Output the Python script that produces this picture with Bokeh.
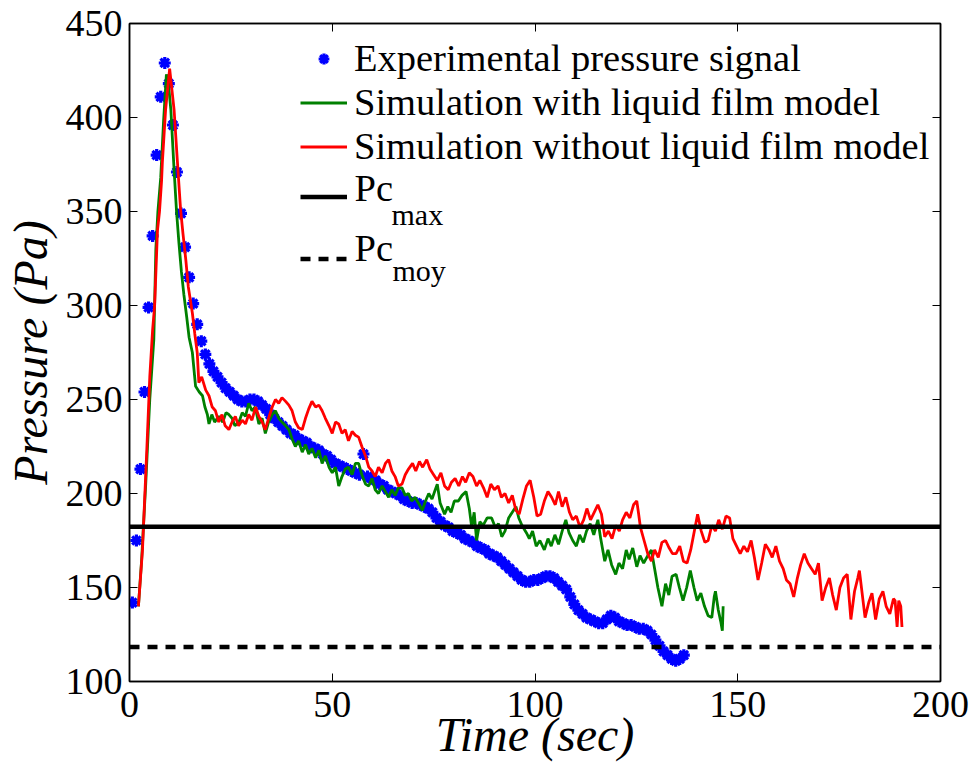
import math
from bokeh.plotting import figure
from bokeh.models import (Range1d, LinearAxis, FixedTicker, Legend, LegendItem, Label,
                          CustomJSTickFormatter)
from bokeh.core.properties import value
from bokeh.embed import file_html
from bokeh.resources import INLINE

# ---------------- data ----------------
X_TICKS = [0, 50, 100, 150, 200]
Y_TICKS = [100, 150, 200, 250, 300, 350, 400, 450]
X_LIM = [0, 200]
Y_LIM = [100, 450]

PC_MAX = 182.3
PC_MOY = 118.3

exp_t = [0.7, 1.7, 2.7, 3.7, 4.7, 5.7, 6.7, 7.7, 8.7, 9.7,
         10.7, 11.7, 12.7, 13.7, 14.7, 15.7, 16.7, 17.7, 18.7, 19.7,
         20.7, 21.7, 22.7, 23.7, 24.7, 25.7, 26.7, 27.7, 28.7, 29.7,
         30.7, 31.7, 32.7, 33.7, 34.7, 35.7, 36.7, 37.7, 38.7, 39.7,
         40.7, 41.7, 42.7, 43.7, 44.7, 45.7, 46.7, 47.7, 48.7, 49.7,
         50.7, 51.7, 52.7, 53.7, 54.7, 55.7, 56.7, 57.7, 58.7, 59.7,
         60.7, 61.7, 62.7, 63.7, 64.7, 65.7, 66.7, 67.7, 68.7, 69.7,
         70.7, 71.7, 72.7, 73.7, 74.7, 75.7, 76.7, 77.7, 78.7, 79.7,
         80.7, 81.7, 82.7, 83.7, 84.7, 85.7, 86.7, 87.7, 88.7, 89.7,
         90.7, 91.7, 92.7, 93.7, 94.7, 95.7, 96.7, 97.7, 98.7, 99.7,
         100.7, 101.7, 102.7, 103.7, 104.7, 105.7, 106.7, 107.7, 108.7, 109.7,
         110.7, 111.7, 112.7, 113.7, 114.7, 115.7, 116.7, 117.7, 118.7, 119.7,
         120.7, 121.7, 122.7, 123.7, 124.7, 125.7, 126.7, 127.7, 128.7, 129.7,
         130.7, 131.7, 132.7, 133.7, 134.7, 135.7, 136.7]
exp_p = [142, 175, 213, 254, 299, 337, 380, 411, 429, 418,
         396, 371, 349, 331, 315, 301, 290, 281, 274, 269,
         265, 262, 259, 256, 254, 252, 250, 249, 249, 250,
         250, 249, 247, 245, 242, 240, 238, 236, 234, 232,
         231, 229, 228, 227, 225, 224, 223, 221, 220, 218,
         216, 215, 214, 213, 212, 211, 210, 221, 209, 208,
         207, 205, 204, 202, 201, 200, 199, 197, 196, 195,
         195, 194, 193, 192, 190, 187, 185, 183, 182, 180,
         179, 178, 176, 175, 174, 172, 171, 170, 168, 167,
         166, 164, 162, 160, 158, 156, 154, 153, 153, 154,
         154, 155, 156, 156, 155, 153, 151, 149, 145, 141,
         138, 136, 134, 133, 132, 131, 131, 133, 135, 134,
         132, 131, 130, 130, 129, 128, 128, 127, 125, 122,
         119, 116, 114, 112, 111, 112, 114]

green_t = [2.2, 3.0, 4.0, 5.0, 6.0, 6.5, 7.0, 7.7, 8.4, 9.1, 9.6, 10.2, 11.0, 11.6, 12.2,
           12.8, 13.4, 14.1, 14.7, 15.5, 16.3, 17.2, 18.0, 18.6, 19.2, 19.6, 20.3, 21.0, 22.0,
           23.0, 23.8, 24.5, 25.3, 26.0, 27.0, 27.8, 28.6, 29.4, 30.2, 31.0, 31.9, 32.7, 33.5,
           34.3, 35.2, 36.0, 36.8, 37.6, 38.5, 39.3, 40.1, 40.9, 41.7, 42.6, 43.4, 44.2, 45.0,
           45.9, 46.7, 47.5, 48.3, 49.2, 50.0, 50.8, 51.6, 52.4, 53.2, 54.0, 54.9, 55.7, 56.5,
           57.3, 58.2, 59.0, 59.8, 60.6, 61.4, 62.3, 63.1, 63.9, 64.7, 65.5, 66.3, 67.2, 68.0,
           68.8, 69.6, 70.4, 71.5, 72.2, 73.0, 73.8, 74.6, 75.4, 75.9, 76.6, 77.7, 78.5, 79.3,
           80.1, 81.1, 82.0, 83.0, 83.8, 84.4, 85.0, 85.6, 86.4, 87.2, 88.2, 89.3, 90.2, 91.0,
           91.8, 92.6, 93.5, 94.4, 95.3, 96.0, 96.8, 97.9, 98.6, 99.4, 100.3, 101.2, 102.3,
           103.2, 104.0, 104.9, 105.8, 106.7, 107.6, 108.4, 109.3, 110.2, 111.0, 111.9, 112.7,
           113.6, 114.5, 115.5, 116.2, 117.2, 118.0, 118.9, 119.9, 120.7, 121.6, 122.5, 123.2,
           124.1, 125.1, 125.9, 126.8, 127.8, 128.7, 129.5, 130.3, 131.3, 132.2, 133.0, 133.8,
           134.8, 135.6, 136.5, 137.4, 138.3, 139.2, 140.0, 140.9, 141.8, 142.7, 143.6, 144.2,
           144.5, 145.2, 145.8, 146.2, 146.4]
green_p = [140, 165, 205, 250, 282, 330, 350, 368, 398, 423, 418, 404, 372, 350, 333,
           318, 306, 294, 283, 275, 257, 254, 252, 246, 242, 237, 242, 238, 241,
           238, 243, 242, 240, 236, 238, 243, 241, 248, 244, 246, 237, 240, 232,
           238, 242, 244, 240, 238, 236, 234, 229, 225, 228, 222, 226, 221, 224,
           219, 223, 216, 220, 214, 211, 214, 204, 209, 213, 214, 210, 216, 216,
           210, 205, 204, 208, 202, 200, 204, 201, 198, 202, 199, 203, 203, 199,
           200, 196, 198, 194, 191, 196, 200, 197, 202, 205, 195, 189, 193, 190,
           196, 196, 199, 201, 192, 182, 190, 175, 185, 183, 187, 187, 182, 184,
           177, 180, 187, 190, 193, 187, 183, 179, 176, 180, 172, 175, 170,
           176, 172, 178, 173, 180, 186, 179, 175, 172, 178, 174, 180,
           184, 178, 186, 176, 164, 170, 162, 157, 163, 160, 170, 165,
           171, 161, 167, 163, 167, 170, 160, 150, 140, 152, 146, 156,
           157, 150, 143, 150, 159, 150, 143, 147, 140, 135, 134, 145,
           148, 138, 132, 127, 140]

red_t = [2.2, 3.2, 4.3, 5.0, 5.7, 6.2, 6.9, 7.4, 7.9, 8.1, 8.9, 9.4, 9.9, 10.4, 11.0,
         11.8, 12.6, 13.2, 13.9, 14.5, 15.5, 16.1, 16.7, 17.1, 17.8, 18.8, 19.6, 20.4, 21.2,
         22.0, 22.8, 23.6, 24.5, 25.3, 26.1, 26.9, 27.8, 28.6, 29.4, 30.2, 31.1, 31.9, 32.7,
         33.5, 34.3, 35.2, 36.0, 36.8, 37.6, 38.5, 39.3, 40.1, 40.9, 41.7, 42.6, 43.4, 44.2,
         45.0, 45.9, 46.7, 47.5, 48.3, 49.2, 50.0, 50.8, 51.6, 52.4, 53.2, 54.0, 54.9, 55.7,
         56.5, 57.3, 58.2, 59.0, 59.8, 60.6, 61.4, 62.3, 63.1, 63.9, 64.7, 65.5, 66.3, 67.2,
         68.0, 68.8, 69.8, 70.6, 71.5, 72.3, 73.3, 74.1, 75.0, 75.9, 76.8, 77.7, 78.6, 79.4,
         80.3, 81.2, 82.1, 82.9, 83.8, 84.7, 85.6, 86.4, 87.3, 88.2, 89.1, 90.0, 90.9, 91.7,
         92.6, 93.5, 94.4, 95.3, 96.1, 97.0, 97.9, 98.8, 99.7, 100.5, 101.4, 102.3, 103.2,
         104.1, 105.0, 105.8, 106.7, 107.6, 108.5, 109.3, 110.2, 111.1, 112.0, 112.8, 113.7,
         114.6, 115.5, 116.4, 117.2, 118.1, 119.0, 119.9, 120.8, 121.6, 122.5, 123.4, 124.3,
         125.1, 125.5, 126.0, 126.9, 127.8, 128.7, 129.5, 130.4, 131.3, 132.2, 133.1, 133.9,
         134.8, 135.7, 136.6, 137.5, 138.4, 139.3, 140.1, 141.0, 141.9, 142.7, 143.6, 144.5,
         145.3, 146.2, 147.1, 148.0, 148.8, 149.7, 150.6, 151.5, 152.4, 153.3, 154.1, 155.0,
         155.9, 156.8, 157.7, 158.5, 159.4, 160.3, 161.2, 162.0, 162.9, 163.8, 164.7, 165.5,
         166.4, 167.3, 168.2, 169.1, 169.9, 170.8, 171.7, 172.6, 173.4, 174.3, 175.2, 176.1,
         177.0, 177.9, 178.8, 179.6, 180.0, 181.4, 182.3, 183.1, 184.0, 184.9, 185.8, 186.6,
         187.5, 188.4, 188.8, 189.3, 189.7, 190.2, 190.5]
red_p = [140, 170, 225, 262, 287, 300, 340, 350, 366, 376, 404, 415, 426, 416, 404,
         377, 351, 338, 324, 310, 296, 285, 275, 259, 262, 255, 252, 246, 244,
         238, 242, 236, 234, 238, 241, 236, 239, 237, 242, 239, 246, 241, 238,
         234, 240, 246, 250, 248, 251, 249, 247, 244, 238, 235, 234, 240, 245,
         249, 246, 247, 244, 240, 236, 232, 238, 237, 232, 234, 228, 233, 231,
         230, 225, 220, 214, 212, 209, 214, 211, 216, 218, 212, 209, 204, 205,
         210, 213, 216, 212, 217, 214, 218, 213, 210, 207, 211, 204, 202, 206,
         208, 204, 209, 206, 211, 209, 204, 207, 203, 198, 205, 202, 204, 198,
         200, 195, 199, 191, 189, 197, 204, 207, 198, 188, 189, 196, 201,
         198, 194, 201, 193, 198, 190, 186, 188, 182, 186, 192, 186,
         190, 194, 189, 177, 180, 176, 183, 180, 186, 190, 187, 194,
         196, 190, 182, 175, 168, 164, 170, 166, 174, 175, 171, 168,
         168, 172, 164, 163, 170, 180, 189, 180, 174, 175, 183, 180,
         186, 181, 188, 187, 176, 172, 168, 172, 169, 175, 166, 154,
         163, 173, 170, 166, 172, 164, 160, 154, 152, 145, 155, 162,
         168, 163, 160, 157, 163, 143, 150, 155, 146, 138, 150, 155,
         157, 133, 148, 155, 159, 134, 142, 147, 133, 144, 148, 140,
         136, 144, 143, 129, 143, 140, 129]

LEGEND_TOP = ["Experimental pressure signal",
              "Simulation with liquid film model",
              "Simulation without liquid film model"]
PC_MAIN = ["Pc", "Pc"]
PC_SUBS = ["max", "moy"]
X_LABEL = "Time (sec)"
Y_LABEL = "Pressure (Pa)"

SERIF = "Liberation Serif"

# ---------------- figure ----------------
p = figure(width=971, height=764, output_backend="svg", toolbar_location=None,
           x_range=Range1d(*X_LIM), y_range=Range1d(*Y_LIM),
           min_border_left=127, min_border_right=31,
           min_border_top=23, min_border_bottom=83,
           background_fill_color="white", border_fill_color="white")
p.grid.visible = False
p.outline_line_color = "black"
p.outline_line_width = 1.5

blank = CustomJSTickFormatter(code="return ''")
p.add_layout(LinearAxis(formatter=blank), "above")
p.add_layout(LinearAxis(formatter=blank), "right")

for ax in p.xaxis:
    ax.ticker = FixedTicker(ticks=X_TICKS)
for ax in p.yaxis:
    ax.ticker = FixedTicker(ticks=Y_TICKS)
for ax in p.axis:
    ax.major_tick_in = 8
    ax.major_tick_out = 0
    ax.minor_tick_line_color = None
    ax.axis_line_color = "black"
    ax.axis_line_width = 1.5
    ax.major_tick_line_color = "black"
    ax.major_tick_line_width = 1
    ax.major_label_text_font = SERIF
    ax.major_label_text_font_size = "38px"
    ax.major_label_text_color = "black"
for ax in (p.above[0], p.right[0]):
    ax.major_label_standoff = 0

xa = p.below[0]
xa.major_label_standoff = 10
xa.axis_label = X_LABEL
xa.axis_label_text_font = SERIF
xa.axis_label_text_font_style = "italic"
xa.axis_label_text_font_size = "48px"
xa.axis_label_text_color = "black"
xa.axis_label_standoff = -12

ya = p.left[0]
ya.major_label_standoff = 7
ya.axis_label = Y_LABEL
ya.axis_label_text_font = SERIF
ya.axis_label_text_font_style = "italic"
ya.axis_label_text_font_size = "48px"
ya.axis_label_text_color = "black"
ya.axis_label_standoff = 6

r_exp = p.scatter(exp_t, exp_p, marker="asterisk", size=12, line_width=3.2,
                  line_color="#0000ff")
r_green = p.line(green_t, green_p, line_color="#008000", line_width=2.8)
r_red = p.line(red_t, red_p, line_color="#ff0000", line_width=2.8)
r_max = p.line(X_LIM, [PC_MAX, PC_MAX], line_color="black", line_width=4.5)
r_moy = p.line(X_LIM, [PC_MOY, PC_MOY], line_color="black", line_width=4.5,
               line_dash="10 8")

leg_a = Legend(items=[LegendItem(label=LEGEND_TOP[0], renderers=[r_exp]),
                      LegendItem(label=LEGEND_TOP[1], renderers=[r_green]),
                      LegendItem(label=LEGEND_TOP[2], renderers=[r_red])],
               location=(171, 513), orientation="vertical",
               glyph_width=47, glyph_height=27, label_height=44,
               label_standoff=7, spacing=0, padding=0, margin=0,
               border_line_color=None, background_fill_alpha=0,
               label_text_font=SERIF, label_text_font_size="38.5px",
               label_text_line_height=0.9, label_text_color="black")
leg_b = Legend(items=[LegendItem(label=value(""), renderers=[r_max]),
                      LegendItem(label=value(""), renderers=[r_moy])],
               location=(171, 395), orientation="vertical",
               glyph_width=47, glyph_height=55, label_height=55,
               label_standoff=7, spacing=7, padding=0, margin=0,
               border_line_color=None, background_fill_alpha=0,
               label_text_font=SERIF, label_text_font_size="38.5px",
               label_text_color="black")
p.add_layout(leg_a, "center")
p.add_layout(leg_b, "center")

for txt, yy in ((PC_MAIN[0], 494), (PC_MAIN[1], 434)):
    p.add_layout(Label(x=225, y=yy, x_units="screen", y_units="screen", text=txt,
                       text_font=SERIF, text_font_size="38.5px",
                       text_baseline="alphabetic", text_color="black"))
for txt, xx, yy in ((PC_SUBS[0], 262, 467), (PC_SUBS[1], 263, 411)):
    p.add_layout(Label(x=xx, y=yy, x_units="screen", y_units="screen", text=txt,
                       text_font=SERIF, text_font_size="30px",
                       text_baseline="alphabetic", text_color="black"))

open("out.html", "w").write(file_html(p, INLINE))
